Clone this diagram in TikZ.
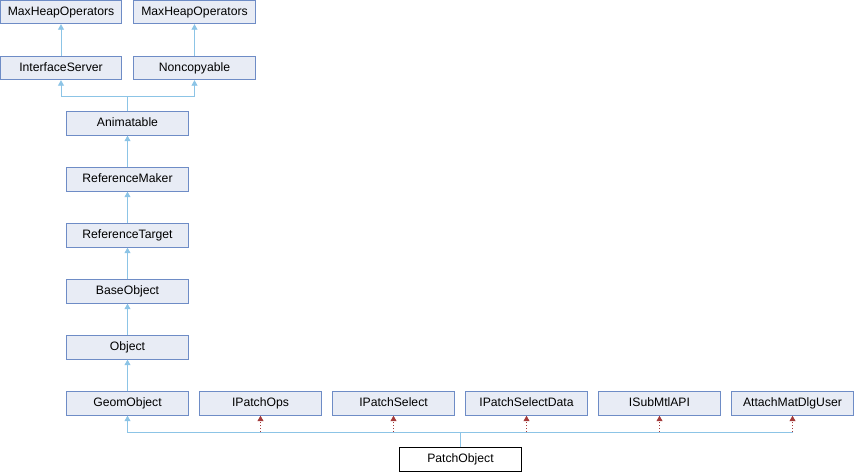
\documentclass[tikz,border=0pt]{standalone}
\usepackage{fontspec}
\setmainfont{Liberation Sans}
\usetikzlibrary{arrows.meta}
\definecolor{boxfill}{HTML}{E8ECF5}
\definecolor{boxline}{HTML}{6E8CC6}
\definecolor{edgeblue}{HTML}{8CC4E6}
\definecolor{edgered}{HTML}{A33A3A}
\begin{document}
\begin{tikzpicture}[x=1pt,y=-1pt,
  cls/.style={draw=boxline,fill=boxfill,line width=0.9pt,minimum width=121.5pt,minimum height=23.5pt,inner sep=0pt,text height=8.6pt,text depth=2.4pt,font=\fontsize{12.2}{14}\selectfont},
  leaf/.style={cls,draw=black,fill=white},
  pub/.style={draw=edgeblue,line width=0.9pt,-{Triangle[length=5.5pt,width=6pt]}},
  bus/.style={draw=edgeblue,line width=0.9pt},
  dep/.style={draw=edgered,line width=0.9pt,dash pattern=on 1.5pt off 1.5pt,-{Triangle[length=5.5pt,width=6pt,fill=edgered]}}]
\useasboundingbox (0,0) rectangle (854,472);
\node[cls] (mh1) at (61,12) {MaxHeapOperators};
\node[cls] (mh2) at (194.5,12) {MaxHeapOperators};
\node[cls] (is) at (61,68) {InterfaceServer};
\node[cls] (nc) at (194.5,68) {Noncopyable};
\node[cls] (an) at (127.5,123.5) {Animatable};
\node[cls] (rm) at (127.5,179.5) {ReferenceMaker};
\node[cls] (rt) at (127.5,235.5) {ReferenceTarget};
\node[cls] (bo) at (127.5,291.5) {BaseObject};
\node[cls] (ob) at (127.5,347.5) {Object};
\node[cls] (go) at (127.5,403.5) {GeomObject};
\node[cls] (po) at (260.5,403.5) {IPatchOps};
\node[cls] (ps) at (393.5,403.5) {IPatchSelect};
\node[cls] (psd) at (526.5,403.5) {IPatchSelectData};
\node[cls] (sm) at (659.5,403.5) {ISubMtlAPI};
\node[cls] (am) at (792.5,403.5) {AttachMatDlgUser};
\node[leaf] (pat) at (460.5,459.5) {PatchObject};
\coordinate (topbus) at (127.5,96);
\coordinate (botbus) at (460.5,432);
% upper hierarchy
\draw[pub] (is.north) -- (mh1.south);
\draw[pub] (nc.north) -- (mh2.south);
\draw[bus] (an.north) -- (topbus);
\draw[pub] (topbus) -| (is.south);
\draw[pub] (topbus) -| (nc.south);
\draw[pub] (rm.north) -- (an.south);
\draw[pub] (rt.north) -- (rm.south);
\draw[pub] (bo.north) -- (rt.south);
\draw[pub] (ob.north) -- (bo.south);
\draw[pub] (go.north) -- (ob.south);
% bottom
\draw[bus] (pat.north) -- (botbus);
\draw[bus] (botbus) -| (am.south |- botbus);
\draw[pub] (botbus) -| (go.south);
\draw[dep] (po.south |- botbus) -- (po.south);
\draw[dep] (ps.south |- botbus) -- (ps.south);
\draw[dep] (psd.south |- botbus) -- (psd.south);
\draw[dep] (sm.south |- botbus) -- (sm.south);
\draw[dep] (am.south |- botbus) -- (am.south);
\end{tikzpicture}
\end{document}
